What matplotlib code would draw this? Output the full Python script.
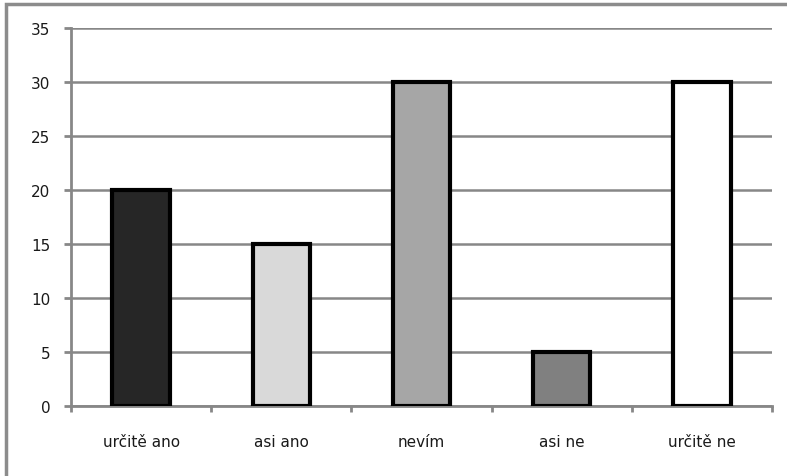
import matplotlib.pyplot as plt
import numpy as np
from matplotlib.patches import Rectangle

categories = ["určitě ano", "asi ano", "nevím", "asi ne", "určitě ne"]
values = [20, 15, 30, 5, 30]
bar_colors = ["#262626", "#d9d9d9", "#a6a6a6", "#808080", "#ffffff"]
y_ticks = [0, 5, 10, 15, 20, 25, 30, 35]

grid_color = "#878787"

fig = plt.figure(figsize=(7.87, 4.77), dpi=100)
ax = fig.add_axes([71 / 787, 1 - 407 / 477, (772 - 71) / 787, (407 - 29) / 477])

# outer chart frame (cut off on the right and bottom)
fig.patches.append(Rectangle((6 / 787, -0.1), 1.2, 1 - 5 / 477 + 0.1,
                             transform=fig.transFigure, fill=False,
                             edgecolor="#8c8c8c", linewidth=2.5))

x = np.arange(len(categories))
ax.bar(x, values, width=0.41, color=bar_colors, edgecolor="black",
       linewidth=3, zorder=3)

ax.set_xlim(-0.5, len(categories) - 0.5)
ax.set_ylim(0, 35)
ax.set_yticks(y_ticks)
ax.set_xticks(x)
ax.set_xticklabels(categories)
ax.set_xticks(np.arange(len(categories) + 1) - 0.5, minor=True)

ax.yaxis.grid(True, color=grid_color, linewidth=1.8, zorder=0)
ax.set_axisbelow(True)

for side in ["top", "right"]:
    ax.spines[side].set_visible(False)
for side in ["left", "bottom"]:
    ax.spines[side].set_color(grid_color)
    ax.spines[side].set_linewidth(2)

ax.tick_params(axis="y", length=5, width=2, color=grid_color,
               labelsize=11, labelcolor="#1a1a1a", pad=10)
ax.tick_params(axis="x", which="major", length=0, labelsize=11,
               labelcolor="#1a1a1a", pad=20)
ax.tick_params(axis="x", which="minor", length=4, width=2, color=grid_color)

plt.savefig("out.png", dpi=100)
